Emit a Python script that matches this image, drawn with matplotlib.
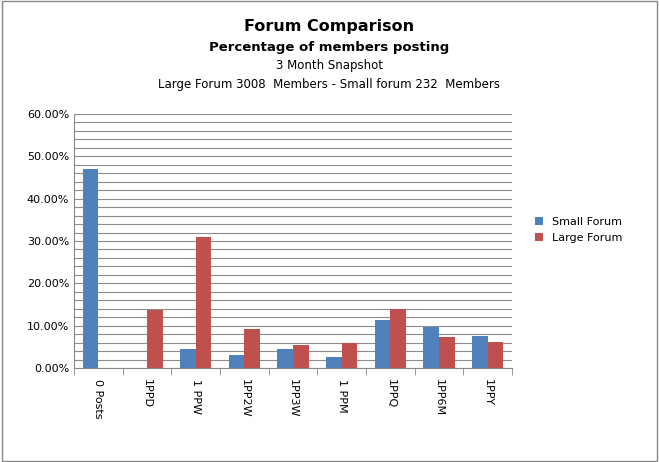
import matplotlib
matplotlib.use("Agg")
import matplotlib.pyplot as plt
import numpy as np
from matplotlib.ticker import FuncFormatter, MultipleLocator, FixedLocator

categories = ["0 Posts", "1PPD", "1 PPW", "1PP2W", "1PP3W", "1 PPM", "1PPQ", "1PP6M", "1PPY"]
small_forum = [47.0, 0.0, 4.5, 3.0, 4.5, 2.6, 11.3, 9.7, 7.6]
large_forum = [0.0, 13.7, 31.0, 9.2, 5.4, 5.9, 13.9, 7.3, 6.1]

fig = plt.figure(figsize=(6.59, 4.62), dpi=100)
fig.patch.set_facecolor("white")
ax = fig.add_axes([74/659, 1-368/462, (512-74)/659, (368-114)/462])
x = np.arange(len(categories))
w = 0.32
ax.bar(x - w/2, small_forum, w, color="#4F81BD", label="Small Forum")
ax.bar(x + w/2, large_forum, w, color="#C0504D", label="Large Forum")
ax.set_xlim(-0.5, len(categories) - 0.5)
ax.set_ylim(0, 60)
ax.yaxis.set_major_locator(MultipleLocator(10))
ax.yaxis.set_minor_locator(MultipleLocator(2))
ax.yaxis.set_major_formatter(FuncFormatter(lambda v, p: f"{v:.2f}%"))
ax.grid(axis="y", which="both", color="#8c8c8c", linewidth=0.8)
ax.set_axisbelow(True)
ax.set_xticks(x)
ax.set_xticklabels(categories, rotation=-90, fontsize=8)
ax.xaxis.set_minor_locator(FixedLocator(np.arange(len(categories) + 1) - 0.5))
ax.tick_params(axis="y", labelsize=8, which="both", length=0)
ax.tick_params(axis="x", which="major", length=0, pad=8)
ax.tick_params(axis="x", which="minor", length=5, color="#888888")
for s in ["top", "right"]:
    ax.spines[s].set_visible(False)
ax.spines["left"].set_color("#888888")
ax.spines["bottom"].set_color("#888888")

fig.text(0.5, 1-27/462, "Forum Comparison", ha="center", va="center", fontsize=11.5, fontweight="bold")
fig.text(0.5, 1-47/462, "Percentage of members posting", ha="center", va="center", fontsize=9.5, fontweight="bold")
fig.text(0.5, 1-66/462, "3 Month Snapshot", ha="center", va="center", fontsize=8.5)
fig.text(0.5, 1-85/462, "Large Forum 3008  Members - Small forum 232  Members", ha="center", va="center", fontsize=8.5)

fig.legend(loc="center left", bbox_to_anchor=(525/659, 1-230/462), frameon=False, fontsize=8,
           handlelength=0.7, handleheight=0.7)
border = plt.Rectangle((0.003, 0.003), 0.994, 0.994, transform=fig.transFigure, fill=False,
                       edgecolor="#888888", linewidth=1)
fig.add_artist(border)
fig.savefig("out.png", dpi=100)
